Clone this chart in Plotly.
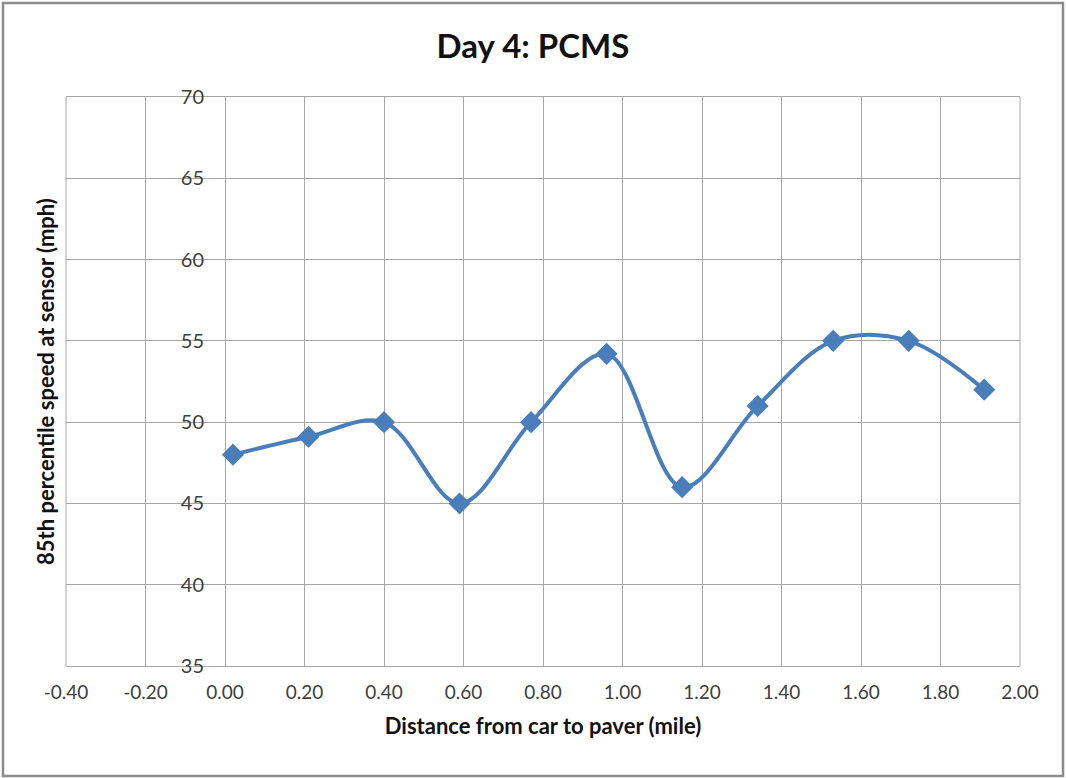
import plotly.graph_objects as go

# Data
distance_mile = [0.02, 0.21, 0.40, 0.59, 0.77, 0.96, 1.15, 1.34, 1.53, 1.72, 1.91]
speed_85th_mph = [48.0, 49.1, 50.0, 45.0, 50.0, 54.2, 46.0, 51.0, 55.0, 55.0, 52.0]

x_ticks = [-0.4, -0.2, 0.0, 0.2, 0.4, 0.6, 0.8, 1.0, 1.2, 1.4, 1.6, 1.8, 2.0]
x_tick_labels = [f"{v:.2f}" for v in x_ticks]
y_ticks = [35, 40, 45, 50, 55, 60, 65, 70]

W, H = 1066, 778
ML, MR, MT, MB = 66, 46, 97, 112
PW, PH = W - ML - MR, H - MT - MB

FONT = "Lato"
GRID = "#a6a6a6"
BLUE = "#4a7ebb"

fig = go.Figure()
fig.add_trace(go.Scatter(
    x=distance_mile, y=speed_85th_mph,
    mode="lines+markers",
    line=dict(color=BLUE, width=4, shape="spline", smoothing=1.0),
    marker=dict(symbol="diamond", size=17, color=BLUE, line=dict(width=0)),
    showlegend=False,
))

xmin, xmax = x_ticks[0], x_ticks[-1]
ypos = (0 - xmin) / (xmax - xmin)

fig.update_layout(
    width=W, height=H,
    margin=dict(l=ML, r=MR, t=MT, b=MB),
    paper_bgcolor="white", plot_bgcolor="white",
    font=dict(family=FONT, color="#404040"),
    title=dict(text="<b>Day 4: PCMS</b>", x=0.5, xref="container", xanchor="center",
               y=1 - 46 / H, yref="container", yanchor="middle",
               font=dict(family=FONT, size=33, color="#111111")),
    xaxis=dict(
        range=[xmin, xmax], tickvals=x_ticks, ticktext=x_tick_labels,
        showgrid=True, gridcolor=GRID, gridwidth=1,
        zeroline=False, showline=True, linecolor=GRID, linewidth=1, mirror=True,
        ticks="", ticklabelstandoff=9,
        tickfont=dict(size=19, color="#404040"),
        title=dict(text="<b>Distance from car to paver (mile)</b>", standoff=16,
                   font=dict(size=22, color="#111111")),
    ),
    yaxis=dict(
        range=[y_ticks[0], y_ticks[-1]], tickvals=y_ticks,
        anchor="free", position=ypos,
        showgrid=True, gridcolor=GRID, gridwidth=1,
        zeroline=False, showline=False, ticks="", ticklabelstandoff=21,
        tickfont=dict(size=20, color="#404040"),
    ),
    annotations=[dict(
        text="<b>85th percentile speed at sensor (mph)</b>",
        xref="paper", yref="paper", x=(45 - ML) / PW, y=(666 - 382) / PH,
        xanchor="center", yanchor="middle", textangle=-90, showarrow=False,
        font=dict(family=FONT, size=22, color="#111111"),
    )],
    shapes=[
        dict(type="line", xref="paper", yref="paper", x0=1, x1=1, y0=0, y1=1,
             line=dict(color=GRID, width=1), layer="below"),
        dict(type="line", xref="paper", yref="paper", x0=0, x1=0, y0=0, y1=1,
             line=dict(color=GRID, width=1), layer="below"),
        dict(type="rect", xref="paper", yref="paper",
             x0=(3 - ML) / PW, x1=(1063 - ML) / PW,
             y0=(H - MB - 776) / PH, y1=(H - MB - 3) / PH,
             line=dict(color="#8c8c8c", width=2.5), fillcolor="rgba(0,0,0,0)"),
    ],
)

fig.write_html(
    "out.html",
    config={"displayModeBar": False},
    post_script="document.body.style.margin='0';document.body.style.overflow='hidden';",
)
